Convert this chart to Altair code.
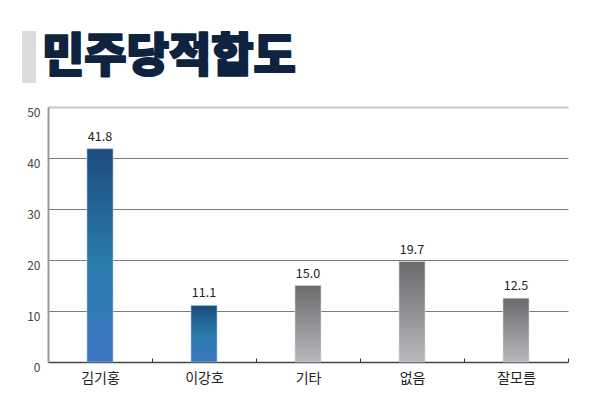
import altair as alt
import pandas as pd

categories = ["김기홍", "이강호", "기타", "없음", "잘모름"]
values = [41.8, 11.1, 15.0, 19.7, 12.5]
groups = ["blue", "blue", "gray", "gray", "gray"]
labels = ["41.8", "11.1", "15.0", "19.7", "12.5"]
y_ticks = [0, 10, 20, 30, 40, 50]
title_text = "민주당적합도"

df = pd.DataFrame({"cat": categories, "val": values, "grp": groups, "lbl": labels})

FONT = "Noto Sans CJK KR"

blue_grad = {
    "gradient": "linear", "x1": 0, "y1": 0, "x2": 0, "y2": 1,
    "stops": [
        {"offset": 0, "color": "#1d4b7d"},
        {"offset": 0.55, "color": "#2a7cae"},
        {"offset": 1, "color": "#3c76bf"},
    ],
}
gray_grad = {
    "gradient": "linear", "x1": 0, "y1": 0, "x2": 0, "y2": 1,
    "stops": [
        {"offset": 0, "color": "#6b6b6e"},
        {"offset": 1, "color": "#b8b8bc"},
    ],
}

x_enc = alt.X(
    "cat:N", sort=categories, title=None,
    scale=alt.Scale(paddingInner=0, paddingOuter=0),
    axis=alt.Axis(
        domain=False, grid=False, offset=-4, tickBand="extent", tickSize=4,
        tickColor="#333", tickWidth=1, labelAngle=0, labelFont=FONT,
        labelFontSize=14, labelColor="#222", labelPadding=9, labelBaseline="top",
    ),
)
y_enc = alt.Y(
    "val:Q", title=None,
    scale=alt.Scale(domain=[0, 50], nice=False),
    axis=alt.Axis(
        values=y_ticks, ticks=False, domainColor="#999", domainWidth=2,
        labelFont=FONT, labelFontSize=12, labelColor="#444", labelPadding=8,
        labelOffset=5,
        gridColor={"condition": [
            {"test": "datum.value === 50", "value": "#c8c8c8"},
            {"test": "datum.value === 0", "value": "#444444"},
        ], "value": "#7a7a7a"},
        gridWidth={"condition": [
            {"test": "datum.value === 50", "value": 2},
            {"test": "datum.value === 0", "value": 1.5},
        ], "value": 1},
    ),
)

base = alt.Chart(df)

bars_blue = base.transform_filter("datum.grp === 'blue'").mark_bar(
    fill=blue_grad, stroke="#a9c6e6", strokeWidth=0.8, strokeOpacity=0.7,
    width=alt.RelativeBandSize(0.25)
).encode(x=x_enc, y=y_enc)

bars_gray = base.transform_filter("datum.grp === 'gray'").mark_bar(
    fill=gray_grad, stroke="#dddddd", strokeWidth=0.8, strokeOpacity=0.7,
    width=alt.RelativeBandSize(0.25)
).encode(x=x_enc, y=y_enc)

text = base.mark_text(
    font=FONT, fontSize=12.5, color="#222", baseline="bottom", dy=-5
).encode(x=alt.X("cat:N", sort=categories), y="val:Q", text="lbl:N")

title_df = pd.DataFrame({"t": [title_text]})
title_bar = alt.Chart(title_df).mark_rect(color="#dcdcdc").encode(
    x=alt.value(-26), x2=alt.value(-12), y=alt.value(-76), y2=alt.value(-24)
)
title_mark = alt.Chart(title_df).mark_text(
    font=FONT, fontSize=46, fontWeight=900, color="#0d2340",
    stroke="#0d2340", strokeWidth=2, strokeJoin="round",
    align="left", baseline="middle"
).encode(x=alt.value(-6), y=alt.value(-50), text="t:N")

chart = alt.layer(bars_blue, bars_gray, text, title_bar, title_mark).properties(
    width=520, height=255,
    background="white",
    autosize=alt.AutoSizeParams(type="none"),
    padding={"left": 40, "top": 99, "right": 18, "bottom": 26},
).configure_view(stroke=None, strokeWidth=0)

chart.save("out.html", embed_options={"renderer": "svg", "actions": False})
